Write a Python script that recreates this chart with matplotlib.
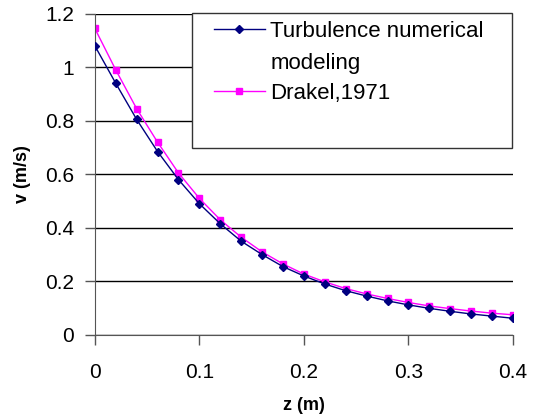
import matplotlib
matplotlib.use("Agg")
import matplotlib.pyplot as plt
import numpy as np
from matplotlib.legend_handler import HandlerLine2D
from matplotlib.patches import Rectangle

plt.rcParams['font.family'] = ['Liberation Sans', 'DejaVu Sans']

# depth (m) and velocity (m/s)
z = [0.00, 0.02, 0.04, 0.06, 0.08, 0.10, 0.12, 0.14, 0.16, 0.18, 0.20,
     0.22, 0.24, 0.26, 0.28, 0.30, 0.32, 0.34, 0.36, 0.38, 0.40]
v_model = [1.080, 0.940, 0.805, 0.685, 0.580, 0.490, 0.415, 0.350, 0.300, 0.255, 0.220,
           0.190, 0.165, 0.145, 0.127, 0.112, 0.099, 0.088, 0.078, 0.070, 0.062]
v_drakel = [1.145, 0.990, 0.845, 0.720, 0.605, 0.510, 0.430, 0.365, 0.310, 0.265, 0.227,
            0.198, 0.173, 0.153, 0.136, 0.121, 0.108, 0.098, 0.089, 0.081, 0.075]

xticks = [0, 0.1, 0.2, 0.3, 0.4]
xticklabels = ['0', '0.1', '0.2', '0.3', '0.4']
yticks = [0, 0.2, 0.4, 0.6, 0.8, 1.0, 1.2]
yticklabels = ['0', '0.2', '0.4', '0.6', '0.8', '1', '1.2']


class TopLineHandler(HandlerLine2D):
    # put the legend marker next to the first line of a two-line label
    def create_artists(self, legend, orig_handle, xdescent, ydescent,
                       width, height, fontsize, trans):
        artists = super().create_artists(legend, orig_handle, xdescent, ydescent,
                                         width, height, fontsize, trans)
        for a in artists:
            a.set_ydata(np.asarray(a.get_ydata(), dtype=float) + 0.85 * fontsize)
        return artists


fig = plt.figure(figsize=(5.36, 4.17), dpi=100)
ax = fig.add_axes([0.177, 0.197, 0.780, 0.770])

l1, = ax.plot(z, v_model, color='#000080', lw=1, marker='D', ms=4,
              label='Turbulence numerical\nmodeling', zorder=3)
l2, = ax.plot(z, v_drakel, color='#FF00FF', lw=1, marker='s', ms=5,
              label='Drakel,1971', zorder=2)

ax.set_xlim(0, 0.4)
ax.set_ylim(0, 1.2)
ax.set_xticks(xticks)
ax.set_xticklabels(xticklabels, fontsize=15)
ax.set_yticks(yticks)
ax.set_yticklabels(yticklabels, fontsize=15)
ax.tick_params(direction='out', length=7, width=1, color='#555555')
ax.tick_params(axis='x', pad=13)
ax.tick_params(axis='y', pad=8)

ax.yaxis.grid(True, color='black', lw=1)
ax.set_axisbelow(True)
for side in ['top', 'right']:
    ax.spines[side].set_visible(False)
for side in ['left', 'bottom']:
    ax.spines[side].set_color('#555555')

ax.set_xlabel('z (m)', fontsize=13, fontweight='bold', labelpad=11)
ax.set_ylabel('v (m/s)', fontsize=13, fontweight='bold', labelpad=10)

# legend box, larger than the entries it holds
ax.add_patch(Rectangle((0.232, 0.583), 0.766, 0.420, transform=ax.transAxes,
                       facecolor='white', edgecolor='#333333', lw=1,
                       clip_on=False, zorder=4))
leg = ax.legend(loc='upper left', bbox_to_anchor=(0.268, 0.997), fontsize=16,
                frameon=False, borderaxespad=0, borderpad=0.3,
                handlelength=2.3, handletextpad=0.25, labelspacing=0.4,
                handler_map={l1: TopLineHandler()})
leg.set_zorder(5)
for t in leg.get_texts():
    t.set_linespacing(1.68)

fig.savefig('out.png', dpi=100)
